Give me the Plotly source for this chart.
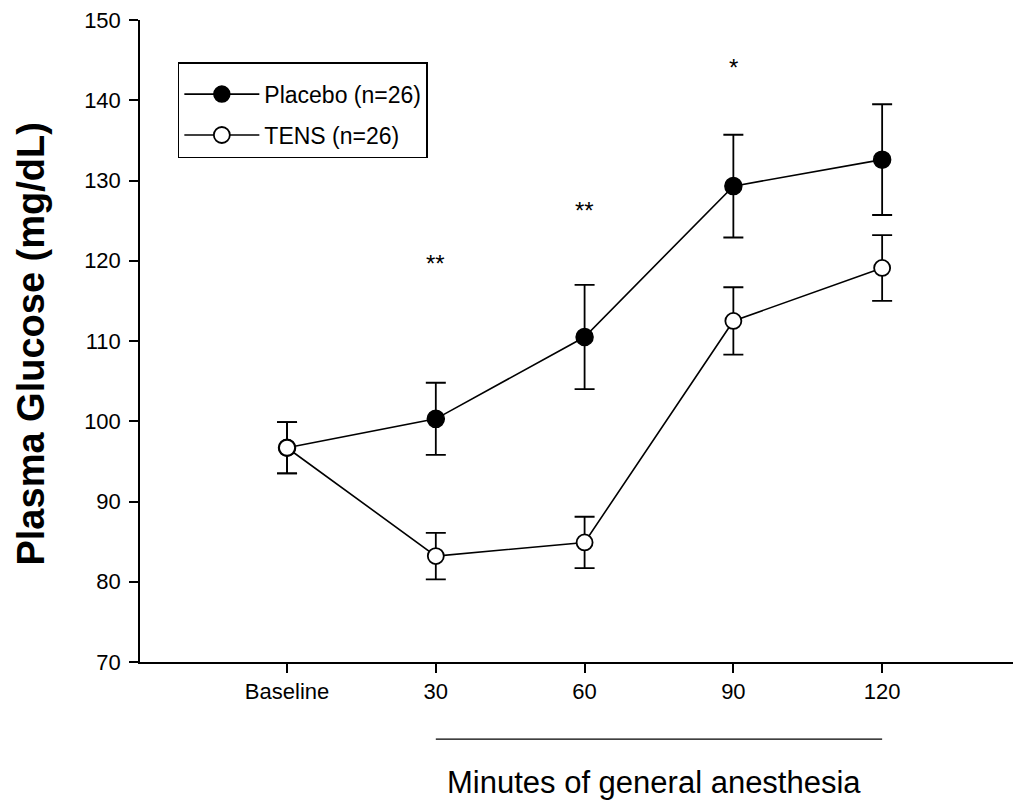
import plotly.graph_objects as go

time_points = [0, 30, 60, 90, 120]
tick_labels = ["Baseline", "30", "60", "90", "120"]

placebo_mean = [96.7, 100.3, 110.5, 129.3, 132.6]
placebo_err = [3.2, 4.5, 6.5, 6.4, 6.9]
tens_mean = [96.7, 83.2, 84.9, 112.5, 119.1]
tens_err = [3.2, 2.9, 3.2, 4.2, 4.1]

sig_x = [30, 60, 90]
sig_y = [119.6, 126.3, 144.1]
sig_text = ["**", "**", "*"]

FONT = "Liberation Sans, Arial, sans-serif"

fig = go.Figure()
fig.add_trace(go.Scatter(
    x=time_points, y=placebo_mean, name="Placebo (n=26)", mode="lines+markers",
    legendgroup="p",
    line=dict(color="black", width=1.6),
    marker=dict(size=17, color="black", line=dict(color="black", width=1.5)),
    error_y=dict(type="data", array=placebo_err, visible=True, color="black", thickness=1.8, width=10),
))
fig.add_trace(go.Scatter(
    x=time_points, y=tens_mean, name="TENS (n=26)", mode="lines+markers",
    legendgroup="t",
    line=dict(color="black", width=1.6),
    marker=dict(size=16, color="white", line=dict(color="black", width=1.8)),
    error_y=dict(type="data", array=tens_err, visible=True, color="black", thickness=1.8, width=10),
))

for sx, sy, st in zip(sig_x, sig_y, sig_text):
    fig.add_annotation(x=sx, y=sy, text=st, showarrow=False,
                       font=dict(family=FONT, size=24, color="black"))

fig.add_shape(type="line", xref="x", yref="paper", x0=time_points[1], x1=time_points[-1],
              y0=-0.12, y1=-0.12, line=dict(color="black", width=1.3))
fig.add_annotation(x=0.584, xref="paper", yref="paper", y=-0.187,
                   text="Minutes of general anesthesia", showarrow=False,
                   xanchor="center", yanchor="middle",
                   font=dict(family=FONT, size=31, color="black"))
fig.add_annotation(x=-0.1235, xref="paper", yref="paper", y=0.495,
                   text="<b>Plasma Glucose (mg/dL)</b>", showarrow=False, textangle=-90,
                   xanchor="center", yanchor="middle",
                   font=dict(family=FONT, size=38, color="black"))

fig.update_layout(
    template="none",
    width=1013, height=796,
    margin=dict(l=132, r=1, t=12, b=142, autoexpand=False),
    plot_bgcolor="white", paper_bgcolor="white",
    showlegend=True,
    legend=dict(x=0.043, y=0.9345, xanchor="left", yanchor="top",
                bordercolor="black", borderwidth=1.5, bgcolor="white",
                font=dict(family=FONT, size=23, color="black"),
                title=dict(text=" ", font=dict(family=FONT, size=7)),
                itemwidth=75, tracegroupgap=8),
    xaxis=dict(range=[-29.65, 147.8], tickmode="array", tickvals=time_points, ticktext=tick_labels,
               showline=True, linecolor="black", linewidth=1.5, ticks="outside", ticklen=9,
               tickcolor="black", tickwidth=1.5, showgrid=False, zeroline=False,
               automargin=False, ticklabeloverflow="allow",
               tickfont=dict(family=FONT, size=22, color="black")),
    yaxis=dict(range=[70, 150], dtick=10, showline=True, linecolor="black", linewidth=1.5,
               ticks="outside", ticklen=9, tickcolor="black", tickwidth=1.5,
               showgrid=False, zeroline=False, automargin=False,
               ticklabeloverflow="allow", ticklabelstandoff=4,
               tickfont=dict(family=FONT, size=22, color="black")),
)

fig.write_html("out.html")
